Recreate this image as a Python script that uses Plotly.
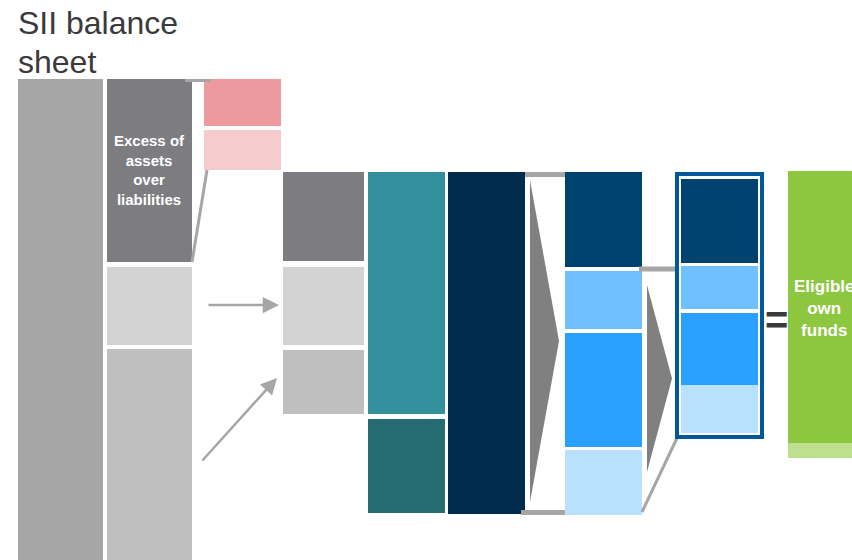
import plotly.graph_objects as go

# ---- block sizes, listed top to bottom within each column (chart units) ----
assets = [490]
excess_and_liabilities = [183, 78, 211]
excess_deductions = [47, 40]
excess_reclassified = [89, 78, 64]
basic_and_ancillary = [242, 94]
total_own_funds = [342]
tiers = [95, 58, 114, 65]
eligible_tiers = [84, 43, 72, 48]
eligible_own_funds = [272, 15]

# where each stack begins (chart units from the top)
stack_tops = [79, 79, 79, 172, 172, 172, 172, 179, 171]

# ---- drawing geometry and style ----
W, H = 852, 560
FONT = "Liberation Sans, Arial, sans-serif"

columns = [
    # values, left, width, gaps between blocks, colours
    (assets, 18, 85, [], ["#a6a6a6"]),
    (excess_and_liabilities, 107, 85, [5, 4], ["#7c7c81", "#d3d3d3", "#bfbfbf"]),
    (excess_deductions, 204, 77, [4], ["#ec9a9e", "#f5cbce"]),
    (excess_reclassified, 283, 81, [6, 5], ["#7c7c81", "#d3d3d3", "#bfbfbf"]),
    (basic_and_ancillary, 368, 77, [5], ["#348f9c", "#266a72"]),
    (total_own_funds, 448, 77, [], ["#012c4d"]),
    (tiers, 565, 77, [4, 4, 3], ["#00426f", "#70bffe", "#2aa0fe", "#b9e1fe"]),
    (eligible_tiers, 681, 77, [3, 4, 0], ["#00426f", "#70bffe", "#2aa0fe", "#b9e1fe"]),
    (eligible_own_funds, 788, 77, [0], ["#8dc63f", "#bedf8e"]),
]

fig = go.Figure()

extents = []  # (left, right, top, bottom, block edges) for connectors
for (vals, left, width, gaps, colors), top in zip(columns, stack_tops):
    bases, y = [], top
    edges = []
    for i, v in enumerate(vals):
        bases.append(y)
        edges.append((y, y + v))
        y += v + (gaps[i] if i < len(gaps) else 0)
    fig.add_trace(go.Bar(
        x=[left + width / 2] * len(vals), y=vals, base=bases, width=width,
        marker=dict(color=colors, line=dict(width=0)),
        hoverinfo="skip", showlegend=False,
    ))
    extents.append((left, left + width, top, edges[-1][1], edges))

A, B, R, C, D, E, F, G, Hc = extents
GREY = "#a6a6a6"
shapes = []

# bracket from the excess block to the two deductions
shapes.append(dict(type="line", x0=B[1] - 7, x1=R[0] + 7, y0=B[2] + 1.5, y1=B[2] + 1.5,
                   line=dict(color=GREY, width=3)))
shapes.append(dict(type="line", x0=B[1], y0=B[4][0][1], x1=R[0] + 3, y1=R[4][-1][1],
                   line=dict(color=GREY, width=3)))

# bracket from total own funds to the tiers
shapes.append(dict(type="line", x0=E[1], x1=F[0], y0=E[2] + 2.5, y1=E[2] + 2.5,
                   line=dict(color=GREY, width=5)))
shapes.append(dict(type="line", x0=E[1] - 4, x1=F[0], y0=E[3] - 1.5, y1=E[3] - 1.5,
                   line=dict(color=GREY, width=5)))

# bracket from the tiers to the eligible tiers
shapes.append(dict(type="line", x0=F[1] - 3, x1=G[0] - 4, y0=F[4][0][1] + 2, y1=F[4][0][1] + 2,
                   line=dict(color=GREY, width=5)))
shapes.append(dict(type="line", x0=F[1], y0=F[3] - 3, x1=G[0] - 4, y1=G[3] + 5,
                   line=dict(color=GREY, width=3)))

# frame around the eligible tiers
shapes.append(dict(type="rect", x0=G[0] - 4, x1=G[1] + 4, y0=G[2] - 5, y1=G[3] + 4,
                   line=dict(color="#00589a", width=4), fillcolor="rgba(0,0,0,0)"))

# chevrons between the columns
for lx, ty, tip, by in [(E[1] + 5, E[2] + 8, F[0] - 6, E[3] - 12),
                        (F[1] + 5, F[4][0][1] + 18, G[0] - 9, F[3] - 43)]:
    fig.add_trace(go.Scatter(
        x=[lx, tip, lx, lx], y=[ty, (ty + by) / 2, by, ty],
        mode="lines", fill="toself", fillcolor="#808080",
        line=dict(width=0), hoverinfo="skip", showlegend=False,
    ))

annotations = [
    dict(x=16, y=23, text="SII balance", xanchor="left", yanchor="middle",
         showarrow=False, font=dict(family=FONT, size=32, color="#3a3a3c")),
    dict(x=16, y=62, text="sheet", xanchor="left", yanchor="middle",
         showarrow=False, font=dict(family=FONT, size=32, color="#3a3a3c")),
    dict(x=(B[0] + B[1]) / 2, y=170, text="<b>Excess of<br>assets<br>over<br>liabilities</b>",
         showarrow=False, font=dict(family=FONT, size=15, color="white")),
    dict(x=(Hc[0] + Hc[1]) / 2 - 3, y=308, text="<b>Eligible<br>own<br>funds</b>",
         showarrow=False, font=dict(family=FONT, size=17, color="white")),
    dict(x=(G[1] + Hc[0]) / 2 + 3, y=320, text="<b>=</b>",
         showarrow=False, font=dict(family=FONT, size=40, color="#3a3a3c")),
    # arrows into the reclassified blocks
    dict(x=C[0] - 4, y=305, ax=R[0] + 3, ay=305, axref="x", ayref="y",
         xref="x", yref="y", text="", showarrow=True, arrowhead=2,
         arrowsize=1.3, arrowwidth=2.5, arrowcolor=GREY),
    dict(x=C[0] - 6, y=378, ax=R[0] - 3, ay=462, axref="x", ayref="y",
         xref="x", yref="y", text="", showarrow=True, arrowhead=2,
         arrowsize=1.3, arrowwidth=2.5, arrowcolor=GREY),
]

fig.update_layout(
    width=W, height=H,
    margin=dict(l=0, r=0, t=0, b=0),
    paper_bgcolor="white", plot_bgcolor="white",
    barmode="overlay", bargap=0,
    xaxis=dict(range=[0, W], visible=False, fixedrange=True),
    yaxis=dict(range=[H, 0], visible=False, fixedrange=True),
    shapes=shapes, annotations=annotations,
)

fig.write_html("out.html")
